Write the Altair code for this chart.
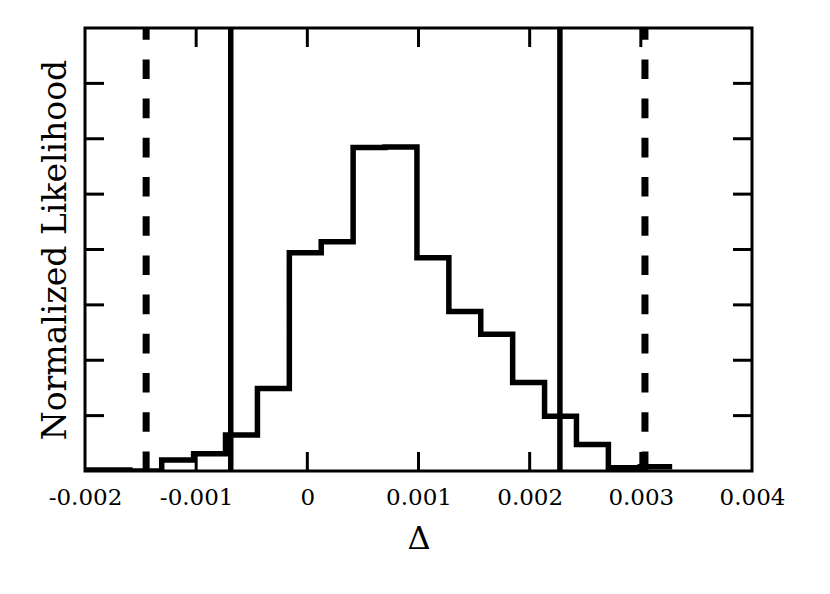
import altair as alt
import pandas as pd

# Histogram bin edges (left edges + final right edge)
bin_edges = [-0.002171, -0.001884, -0.001597, -0.001310, -0.001023, -0.000736,
             -0.000449, -0.000162, 0.000125, 0.000412, 0.000699, 0.000986,
             0.001273, 0.001560, 0.001847, 0.002134, 0.002421, 0.002708,
             0.002995, 0.003282]
# Bin heights (in y-tick units, 8 intervals on the axis)
bin_heights = [0.02, 0.02, 0.0, 0.20, 0.31, 0.65, 1.49, 3.94, 4.14, 5.84,
               5.85, 3.85, 2.88, 2.47, 1.60, 0.99, 0.48, 0.06, 0.075]

solid_lines = [-0.000689, 0.002272]
dashed_lines = [-0.00145, 0.003037]

x_ticks = [-0.001, 0.0, 0.001, 0.002, 0.003]
x_labels = [-0.002, -0.001, 0.0, 0.001, 0.002, 0.003, 0.004]
y_ticks = [1, 2, 3, 4, 5, 6, 7]

W, H = 667, 443
TICK = 19

hist_df = pd.DataFrame({
    "x": bin_edges,
    "y": bin_heights + [bin_heights[-1]],
})

xscale = alt.Scale(domain=[-0.002, 0.004], nice=False, zero=False)
yscale = alt.Scale(domain=[0, 8], nice=False)

label_expr = "datum.value == 0 ? '0' : (datum.value < 0 ? '-' : '') + format(abs(datum.value), '.3f')"

hist = alt.Chart(hist_df).mark_line(
    interpolate="step-after", color="black", strokeWidth=5.5, clip=True
).encode(
    x=alt.X("x:Q", scale=xscale, axis=alt.Axis(
        values=x_labels, labelExpr=label_expr, title="Δ", ticks=False, tickSize=0,
        domain=False, grid=False, labelPadding=15, labelFlush=False,
        labelOverlap=False, labelFontSize=23, titleFontSize=32,
        titleY=77, titleBaseline="alphabetic")),
    y=alt.Y("y:Q", scale=yscale, axis=alt.Axis(
        title="Normalized Likelihood", labels=False, ticks=False, domain=False,
        grid=False, titleFontSize=33, titleX=-19.5, titleBaseline="alphabetic")),
)

solid = alt.Chart(pd.DataFrame({"x": solid_lines})).mark_rule(
    color="black", strokeWidth=5.5
).encode(
    x=alt.X("x:Q", scale=xscale),
    y=alt.datum(0),
    y2=alt.datum(8),
)

dashed = alt.Chart(pd.DataFrame({"x": dashed_lines})).mark_rule(
    color="black", strokeWidth=7, strokeDash=[19.6, 19.6]
).encode(
    x=alt.X("x:Q", scale=xscale),
    y=alt.datum(0),
    y2=alt.datum(8),
)

xt_df = pd.DataFrame({"x": x_ticks})
yt_df = pd.DataFrame({"y": y_ticks})

top_ticks = alt.Chart(xt_df).mark_rule(color="black", strokeWidth=3).encode(
    x=alt.X("x:Q", scale=xscale), y=alt.value(0), y2=alt.value(TICK))
bottom_ticks = alt.Chart(xt_df).mark_rule(color="black", strokeWidth=3).encode(
    x=alt.X("x:Q", scale=xscale), y=alt.value(H), y2=alt.value(H - TICK))
left_ticks = alt.Chart(yt_df).mark_rule(color="black", strokeWidth=3).encode(
    y=alt.Y("y:Q", scale=yscale), x=alt.value(0), x2=alt.value(TICK))
right_ticks = alt.Chart(yt_df).mark_rule(color="black", strokeWidth=3).encode(
    y=alt.Y("y:Q", scale=yscale), x=alt.value(W), x2=alt.value(W - TICK))

chart = alt.layer(
    hist, solid, dashed, top_ticks, bottom_ticks, left_ticks, right_ticks
).properties(
    width=W, height=H,
    background="white",
    autosize=alt.AutoSizeParams(type="none"),
    padding={"left": 77, "top": 20, "right": 70, "bottom": 115},
).configure_view(
    stroke="black", strokeWidth=3
).configure_axis(
    labelFont="DejaVu Serif", titleFont="DejaVu Serif",
    labelColor="black", titleColor="black", titleFontWeight="normal",
)

chart.save("out.html", embed_options={"renderer": "svg", "actions": False})
